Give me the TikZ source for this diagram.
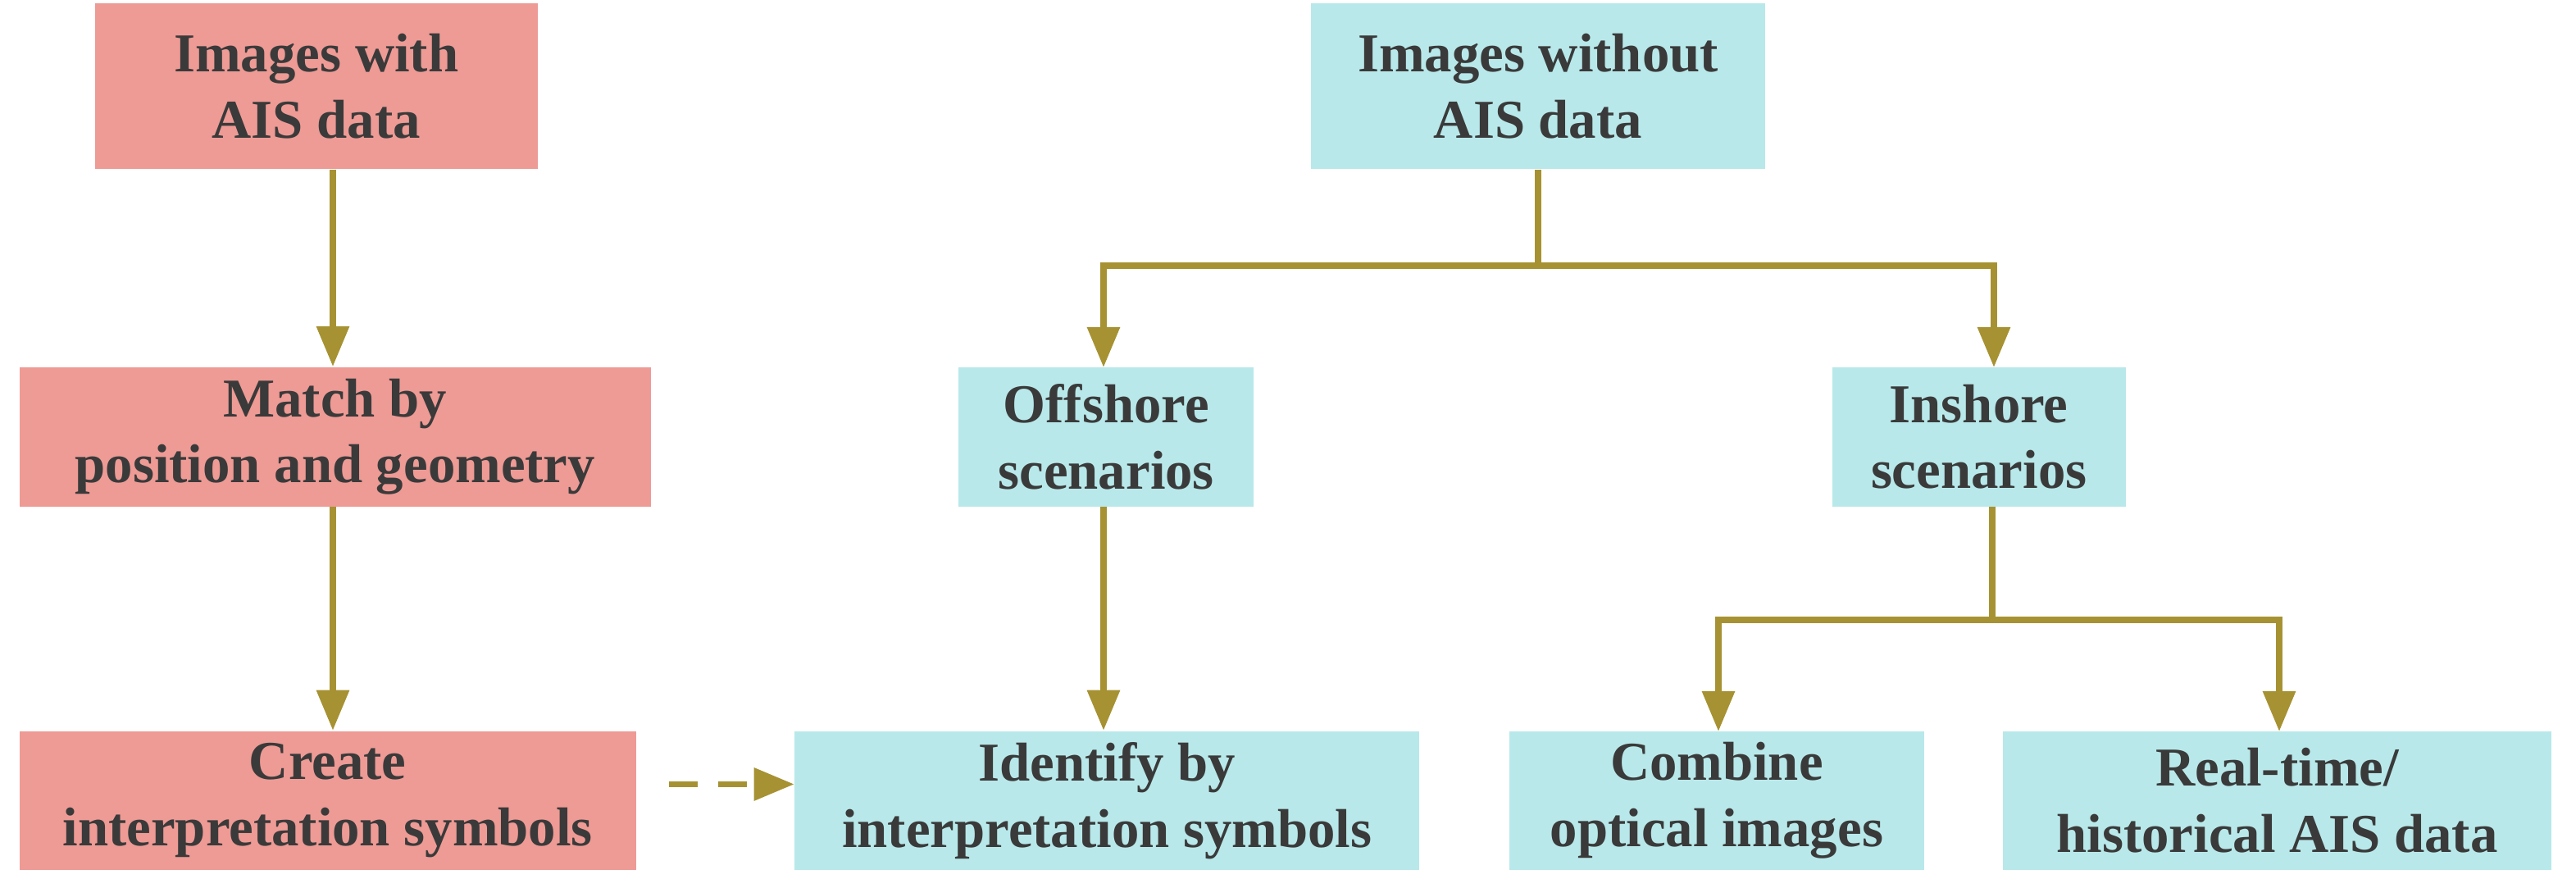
\documentclass[tikz,border=0pt]{standalone}
\usepackage{fontspec}
\setmainfont{Liberation Serif}
\usetikzlibrary{arrows.meta}
\definecolor{pinkbox}{HTML}{EE9A95}
\definecolor{cyanbox}{HTML}{B8E8EA}
\definecolor{arr}{HTML}{A69232}
\definecolor{txt}{HTML}{3A3A3A}
\tikzset{
 bx/.style={inner sep=0pt, align=center, font=\fontsize{19}{23}\selectfont\bfseries, text=txt},
 pk/.style={bx, fill=pinkbox},
 cy/.style={bx, fill=cyanbox},
 ar/.style={draw=arr, line width=2.2pt, -{Triangle[length=14pt,width=11pt]}},
 ln/.style={draw=arr, line width=2.2pt},
}
\newcommand{\bxat}[7]{% name style x1 x2 y1 y2 text
 \node[#2, minimum width={(#4-#3)*0.01cm}, minimum height={(#6-#5)*0.01cm}] (#1) at ({(#3+#4)/2*0.01},{-(#5+#6)/2*0.01}) {#7};}
\begin{document}
\begin{tikzpicture}
\useasboundingbox (0,0) rectangle (31.42,-10.83);
\bxat{A}{pk}{116}{656}{4}{206}{Images with\\AIS data}
\bxat{B}{pk}{24}{794}{448}{618}{Match by\\position and geometry}
\bxat{C}{pk}{24}{776}{892}{1062}{Create\\interpretation symbols}
\bxat{D}{cy}{1600}{2154}{4}{206}{Images without\\AIS data}
\bxat{E}{cy}{1170}{1530}{448}{618}{Offshore\\scenarios}
\bxat{F}{cy}{2236}{2594}{448}{618}{Inshore\\scenarios}
\bxat{G}{cy}{970}{1732}{892}{1062}{Identify by\\interpretation symbols}
\bxat{H}{cy}{1842}{2348}{892}{1062}{Combine\\optical images}
\bxat{I}{cy}{2444}{3114}{892}{1062}{Real-time/\\historical AIS data}
\coordinate (j1) at (18.76,-3.24);
\coordinate (j2) at (24.3,-7.56);
\draw[ar] (A.south -| 4.06,0) -- (B.north -| 4.06,0);
\draw[ar] (B.south -| 4.06,0) -- (C.north -| 4.06,0);
\draw[ln] (D.south -| j1) -- (j1);
\draw[ar] (j1) -| (13.46,-4.48);
\draw[ar] (j1) -| (24.32,-4.48);
\draw[ar] (E.south -| 13.46,0) -- (G.north -| 13.46,0);
\draw[ln] (F.south -| j2) -- (j2);
\draw[ar] (j2) -| (20.96,-8.92);
\draw[ar] (j2) -| (27.8,-8.92);
\draw[ar, dashed, dash pattern=on 10pt off 7pt] (C.east) ++(0.4,0.2) coordinate (c0) (c0) -- (G.west |- c0);
\end{tikzpicture}
\end{document}
